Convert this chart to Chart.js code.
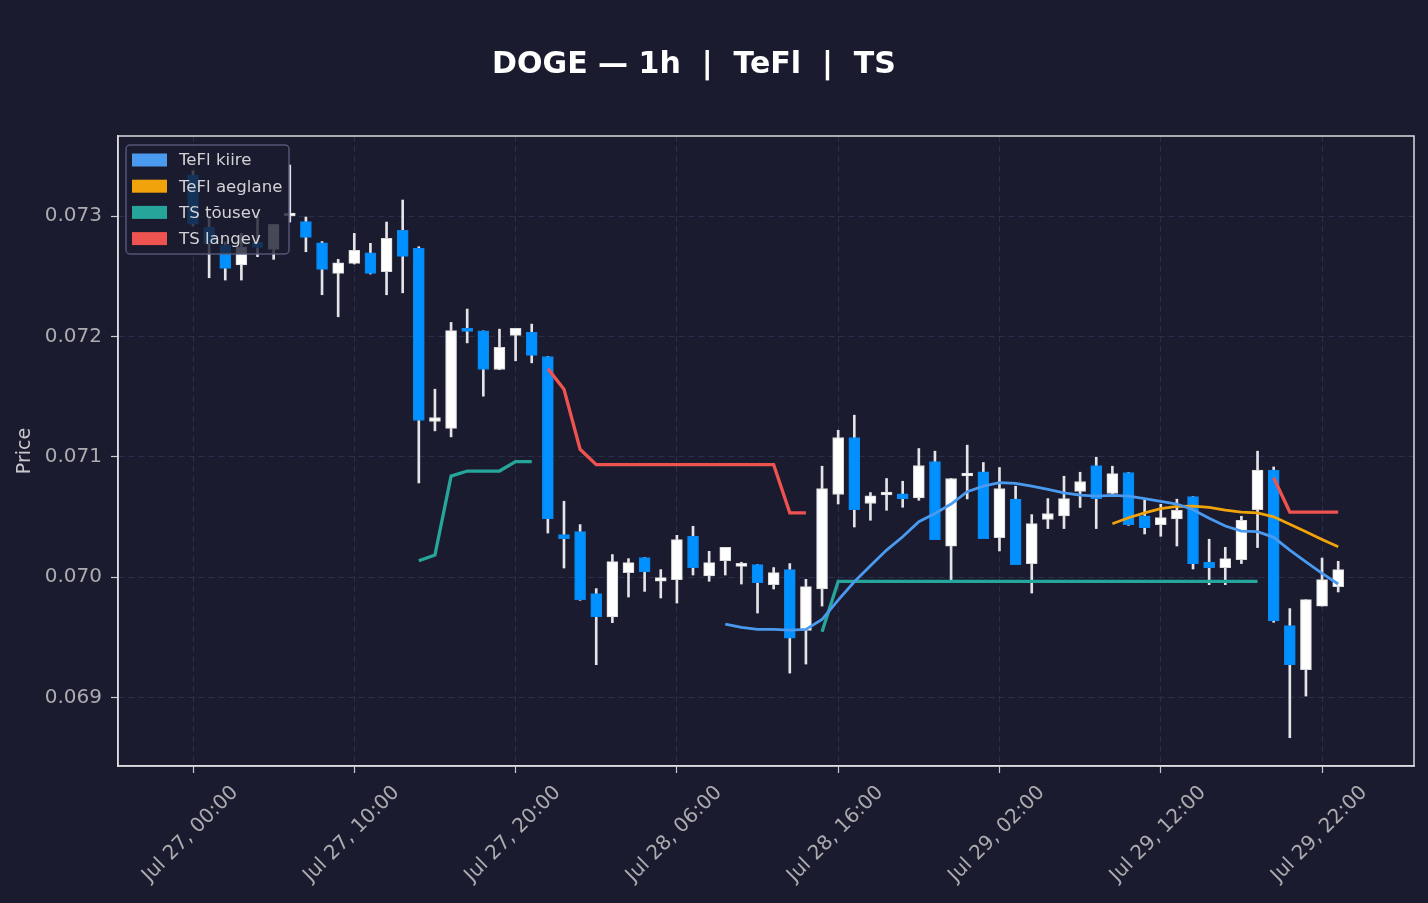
<!DOCTYPE html>
<html><head><meta charset="utf-8">
<script src="https://cdn.jsdelivr.net/npm/chart.js@4.4.1/dist/chart.umd.min.js"></script>
<style>html,body{margin:0;padding:0;background:#1a1b2e;}canvas{display:block;}</style>
</head><body>
<canvas id="c" width="1428" height="903"></canvas>
<script>
const titleText = 'DOGE — 1h  |  TeFl  |  TS';
const yTitle = 'Price';
const tickHours = [0, 10, 20, 30, 40, 50, 60, 70];
const tickLabels = ['Jul 27, 00:00','Jul 27, 10:00','Jul 27, 20:00','Jul 28, 06:00','Jul 28, 16:00','Jul 29, 02:00','Jul 29, 12:00','Jul 29, 22:00'];

const open = [0.073341,0.072906,0.072759,0.072593,0.072781,0.072723,0.073000,0.072953,0.072778,0.072523,
0.072607,0.072695,0.072537,0.072881,0.072731,0.071293,0.071235,0.072063,0.072046,0.071725,
0.072008,0.072033,0.071833,0.070353,0.070378,0.069862,0.069668,0.070037,0.070162,0.069965,
0.069979,0.070339,0.070009,0.070137,0.070089,0.070103,0.069937,0.070062,0.069557,0.069901,
0.070686,0.071160,0.070611,0.070682,0.070691,0.070657,0.070960,0.070256,0.070840,0.070874,
0.070328,0.070649,0.070112,0.070478,0.070508,0.070711,0.070927,0.070694,0.070869,0.070508,
0.070436,0.070483,0.070669,0.070125,0.070079,0.070145,0.070561,0.070888,0.069596,0.069230,
0.069759,0.069921];
const high = [0.073377,0.072986,0.072784,0.072856,0.072994,0.072931,0.073424,0.072992,0.072788,0.072640,
0.072856,0.072773,0.072950,0.073133,0.072745,0.071561,0.072116,0.072227,0.072046,0.072060,
0.072066,0.072102,0.071833,0.070630,0.070436,0.069904,0.070187,0.070153,0.070162,0.070062,
0.070347,0.070422,0.070214,0.070247,0.070123,0.070103,0.070079,0.070112,0.069981,0.070921,
0.071220,0.071345,0.070702,0.070819,0.070796,0.071068,0.071046,0.070819,0.071096,0.070952,
0.070910,0.070755,0.070519,0.070652,0.070838,0.070871,0.070996,0.070921,0.070869,0.070638,
0.070605,0.070647,0.070669,0.070314,0.070247,0.070505,0.071046,0.070915,0.069738,0.069812,
0.070158,0.070131];
const low = [0.072917,0.072487,0.072468,0.072468,0.072662,0.072640,0.072950,0.072703,0.072346,0.072163,
0.072601,0.072518,0.072346,0.072362,0.070782,0.071215,0.071165,0.071946,0.071503,0.071723,
0.071797,0.071780,0.070366,0.070075,0.069807,0.069272,0.069621,0.069834,0.069881,0.069826,
0.069784,0.070017,0.069965,0.070017,0.069942,0.069701,0.069901,0.069202,0.069277,0.069759,
0.070607,0.070416,0.070472,0.070555,0.070580,0.070638,0.070311,0.069973,0.070649,0.070320,
0.070217,0.070103,0.069867,0.070403,0.070403,0.070578,0.070403,0.070692,0.070430,0.070358,
0.070339,0.070258,0.070067,0.069937,0.069937,0.070112,0.070245,0.069624,0.068665,0.069011,
0.069759,0.069876];
const close = [0.072933,0.072773,0.072565,0.072745,0.072740,0.072931,0.073012,0.072823,0.072557,0.072612,
0.072715,0.072523,0.072815,0.072665,0.071301,0.071326,0.072048,0.072041,0.071725,0.071908,
0.072066,0.071842,0.070483,0.070320,0.069812,0.069668,0.070128,0.070120,0.070042,0.069995,
0.070311,0.070079,0.070120,0.070247,0.070098,0.069954,0.070037,0.069493,0.069921,0.070736,
0.071160,0.070561,0.070674,0.070688,0.070649,0.070927,0.070311,0.070819,0.070848,0.070320,
0.070736,0.070103,0.070444,0.070528,0.070652,0.070794,0.070652,0.070860,0.070436,0.070411,
0.070494,0.070555,0.070112,0.070079,0.070153,0.070472,0.070888,0.069635,0.069272,0.069812,
0.069979,0.070062];

const teflFastStart = 33;
const teflFast = [0.069609,0.069582,0.069565,0.069565,0.069559,0.069565,0.069648,0.069809,0.069961,0.070094,
0.070224,0.070335,0.070460,0.070529,0.070607,0.070709,0.070756,0.070784,0.070778,0.070756,
0.070729,0.070700,0.070681,0.070673,0.070679,0.070673,0.070651,0.070629,0.070607,0.070560,
0.070488,0.070424,0.070382,0.070377,0.070330,0.070224,0.070127,0.070031,0.069942];
const teflSlowStart = 57;
const teflSlow = [0.070443,0.070493,0.070534,0.070568,0.070587,0.070590,0.070579,0.070557,0.070540,0.070534,
0.070501,0.070438,0.070377,0.070313,0.070252];

const tsUp = [null,null,null,null,null,null,null,null,null,null,null,null,null,null,
0.070136,0.070183,0.070839,0.070881,0.070881,0.070881,0.070960,0.070960,
null,null,null,null,null,null,null,null,null,null,null,null,null,null,null,null,null,
0.069545,
0.069964,0.069964,0.069964,0.069964,0.069964,0.069964,0.069964,0.069964,0.069964,0.069964,
0.069964,0.069964,0.069964,0.069964,0.069964,0.069964,0.069964,0.069964,0.069964,0.069964,
0.069964,0.069964,0.069964,0.069964,0.069964,0.069964,0.069964,
null,null,null,null,null];
const tsDown = [null,null,null,null,null,null,null,null,null,null,null,null,null,null,null,null,null,null,null,null,null,null,
0.071732,0.071561,0.071062,
0.070934,0.070934,0.070934,0.070934,0.070934,0.070934,0.070934,0.070934,0.070934,0.070934,0.070934,0.070934,
0.070534,0.070534,
null,null,null,null,null,null,null,null,null,null,null,null,null,null,null,null,null,null,null,null,null,null,null,null,null,null,null,null,
0.070825,0.070540,0.070540,0.070540,0.070540];

const C_UP = '#ffffff', C_DN = '#0090ff';
const C_FAST = '#4a9af0', C_SLOW = '#f0a30a', C_TSUP = '#26a69a', C_TSDN = '#ef5350';

const isUp = close.map((c, i) => c >= open[i]);
const wickData = low.map((l, i) => ({x: i, y: [l, high[i]]}));
const bodyData = open.map((o, i) => ({x: i, y: [o, close[i]]}));
const series = (arr, start) => arr.map((v, i) => ({x: start + i, y: v}));

Chart.defaults.font.family = "'DejaVu Sans', sans-serif";

const decor = {
  id: 'decor',
  afterDraw(chart) {
    const {ctx, chartArea: a} = chart;
    ctx.save();
    ctx.strokeStyle = '#dcdce0';
    ctx.lineWidth = 1.5;
    ctx.strokeRect(a.left, a.top, a.right - a.left, a.bottom - a.top);
    // legend
    const items = chart.data.datasets.filter(d => d.type === 'line');
    const lx = a.left + 8, ly = a.top + 9, lw = 163, lh = 109;
    ctx.beginPath();
    ctx.roundRect(lx, ly, lw, lh, 4);
    ctx.fillStyle = 'rgba(26,27,46,0.8)';
    ctx.fill();
    ctx.strokeStyle = 'rgba(90,92,125,0.9)';
    ctx.lineWidth = 1.5;
    ctx.stroke();
    ctx.font = "16.6px 'DejaVu Sans'";
    ctx.textBaseline = 'middle';
    ctx.textAlign = 'left';
    items.forEach((d, k) => {
      const cy = ly + 15 + k * 26.2;
      ctx.fillStyle = d.borderColor;
      ctx.fillRect(lx + 6, cy - 6.5, 35, 13);
      ctx.fillStyle = '#d2d2d6';
      ctx.fillText(d.label, lx + 53, cy + 1);
    });
    // title
    ctx.font = "bold 30px 'DejaVu Sans'";
    ctx.fillStyle = '#ffffff';
    ctx.textAlign = 'center';
    ctx.textBaseline = 'alphabetic';
    ctx.fillText(titleText, 694, 72.5);
    ctx.restore();
  }
};

new Chart(document.getElementById('c'), {
  type: 'bar',
  data: {
    datasets: [
      {type: 'line', label: 'TeFl kiire', data: series(teflFast, teflFastStart), borderColor: C_FAST, borderWidth: 2.8, pointRadius: 0, order: 0},
      {type: 'line', label: 'TeFl aeglane', data: series(teflSlow, teflSlowStart), borderColor: C_SLOW, borderWidth: 2.8, pointRadius: 0, order: 0},
      {type: 'line', label: 'TS tõusev', data: series(tsUp, 0), borderColor: C_TSUP, borderWidth: 3.3, pointRadius: 0, spanGaps: false, order: 0},
      {type: 'line', label: 'TS langev', data: series(tsDown, 0), borderColor: C_TSDN, borderWidth: 3.3, pointRadius: 0, spanGaps: false, order: 0},
      {type: 'bar', label: 'body', data: bodyData, grouped: false, barThickness: 11, minBarLength: 3,
        backgroundColor: isUp.map(u => u ? C_UP : C_DN), borderColor: isUp.map(u => u ? '#d8d8d8' : '#0a86ee'),
        borderWidth: 1, borderSkipped: false, order: 1},
      {type: 'bar', label: 'wick', data: wickData, grouped: false, barThickness: 2,
        backgroundColor: '#e4e4e8', borderWidth: 0, order: 2}
    ]
  },
  options: {
    responsive: false,
    animation: false,
    devicePixelRatio: 1,
    layout: {padding: {top: 136, right: 14, bottom: 0, left: 10}},
    plugins: {legend: {display: false}, tooltip: {enabled: false}, title: {display: false}},
    scales: {
      x: {
        type: 'linear', min: -4.65, max: 75.7, offset: false,
        afterFit: s => { s.height = 137; },
        afterBuildTicks: s => { s.ticks = tickHours.map(v => ({value: v})); },
        ticks: {
          autoSkip: false, maxRotation: 45, minRotation: 45, includeBounds: false,
          color: '#ababb0', font: {size: 20}, padding: 8, labelOffset: 42,
          callback: v => tickLabels[tickHours.indexOf(v)]
        },
        grid: {color: '#2c2e4c', offset: false, tickColor: '#c8c8cc', tickLength: 7, tickWidth: 1.2},
        border: {display: true, color: '#dcdce0', width: 1.5, dash: [6, 4]}
      },
      y: {
        type: 'linear', min: 0.06843, max: 0.073665,
        afterFit: s => { s.width = 108; },
        ticks: {stepSize: 0.001, includeBounds: false, color: '#ababb0', font: {size: 20}, padding: 9,
          callback: v => v.toFixed(3)},
        grid: {color: '#2c2e4c', tickColor: '#c8c8cc', tickLength: 7, tickWidth: 1.2},
        border: {display: true, color: '#dcdce0', width: 1.5, dash: [6, 4]},
        title: {display: true, text: yTitle, color: '#c8c8cc', font: {size: 19}, padding: {top: 4, bottom: 4}}
      }
    }
  },
  plugins: [decor]
});
</script>
</body></html>
